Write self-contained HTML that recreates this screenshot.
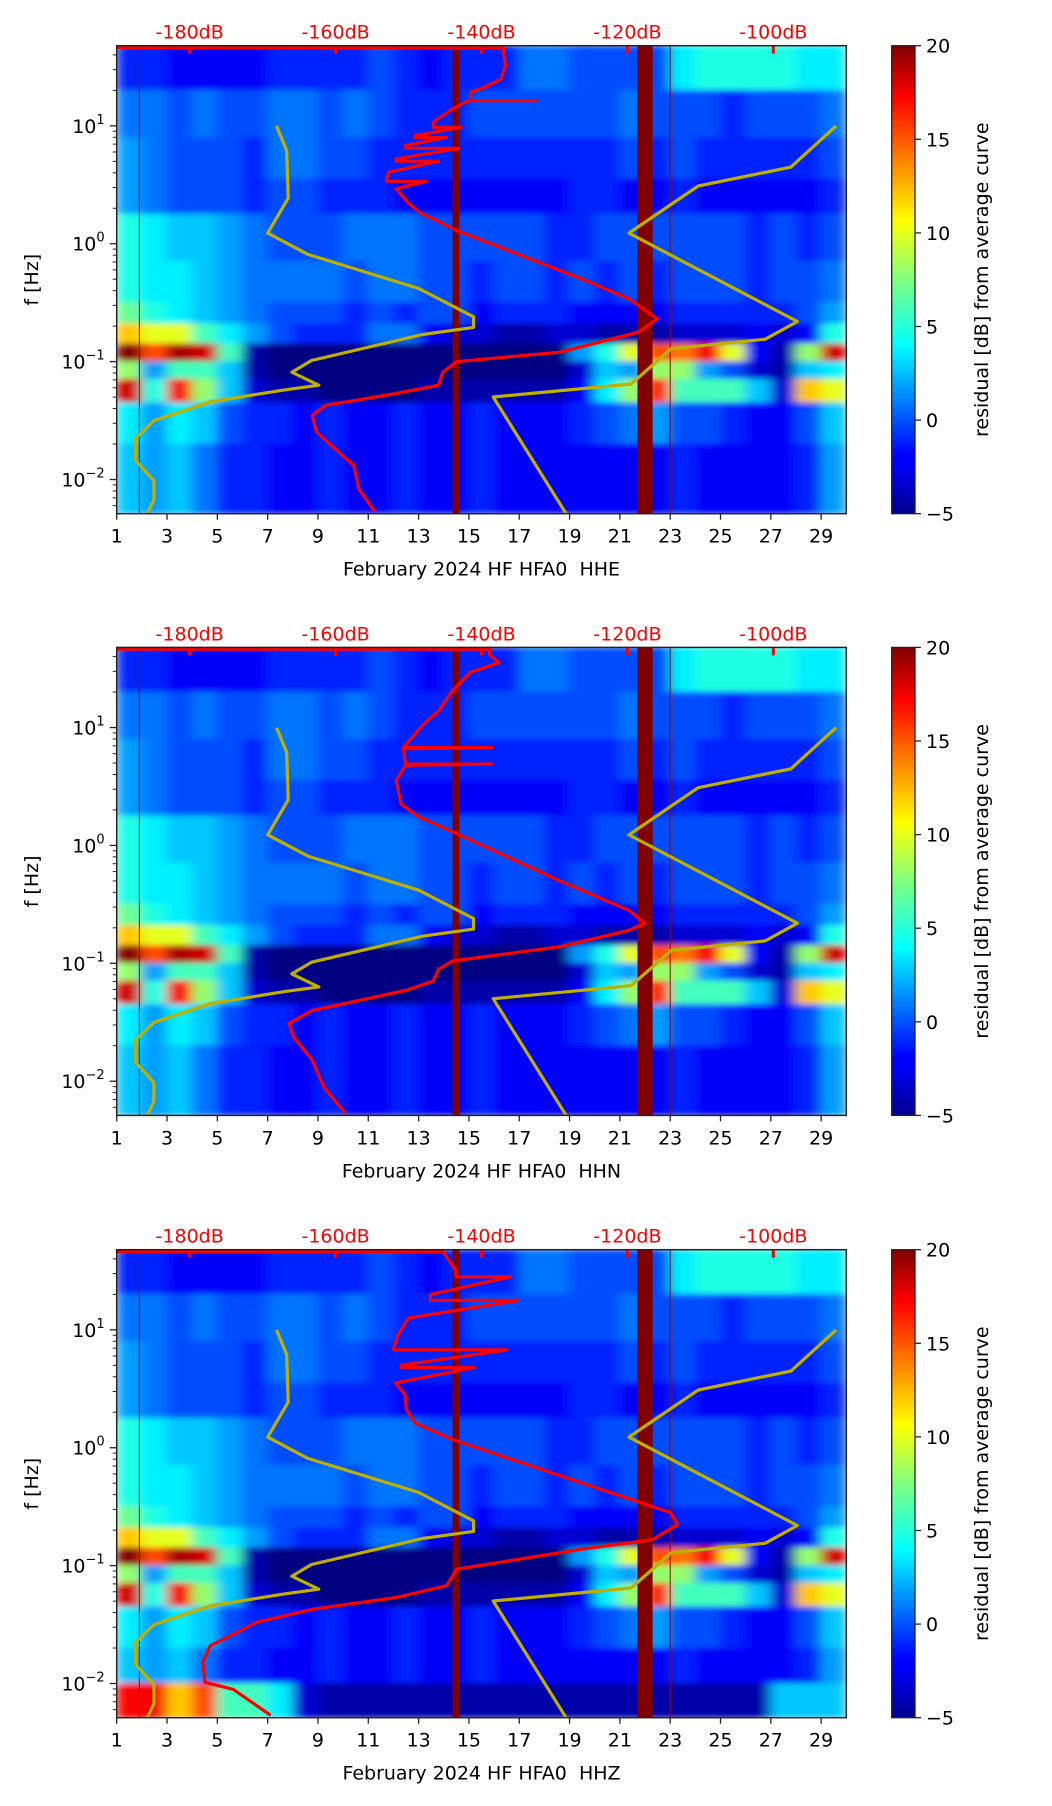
<!DOCTYPE html>
<html><head><meta charset="utf-8">
<style>
html,body{margin:0;padding:0;background:#fff;}
svg{display:block;font-family:"DejaVu Sans","Liberation Sans",sans-serif;}
text{white-space:pre;}
</style></head>
<body>
<svg id="fig" width="1052" height="1806" viewBox="0 0 1052 1806" xmlns="http://www.w3.org/2000/svg">
<defs>
<filter id="blur" x="-5%" y="-5%" width="110%" height="110%"><feGaussianBlur stdDeviation="6 3" edgeMode="duplicate"/></filter>
<linearGradient id="jetgrad" x1="0" y1="1" x2="0" y2="0">
<stop offset="0" stop-color="#00008f"/><stop offset="0.11" stop-color="#0000ff"/><stop offset="0.125" stop-color="#0000ff"/>
<stop offset="0.36" stop-color="#00ffff"/><stop offset="0.5" stop-color="#80ff80"/><stop offset="0.625" stop-color="#ffff00"/>
<stop offset="0.89" stop-color="#ff0000"/><stop offset="1" stop-color="#800000"/>
</linearGradient>
</defs>
</svg>
<script>
// ---- data ----
const dayTicks = [1,3,5,7,9,11,13,15,17,19,21,23,25,27,29];
const dbTicks = [-180,-160,-140,-120,-100];
const cbTicks = [-5,0,5,10,15,20];
const yDecades = [-2,-1,0,1];
const panelTitles = ["February 2024 HF HFA0  HHE","February 2024 HF HFA0  HHN","February 2024 HF HFA0  HHZ"];
// frequency band edges (log10 Hz) for residual heatmap rows
const bandEdges = [1.68,1.30,0.90,0.55,0.25,-0.15,-0.50,-0.68,-0.85,-1.00,-1.15,-1.35,-1.70,-2.00,-2.29];
// residual dB per band (rows) per day (columns day 1..29)
const resB0 = [-1,-1,-2,-2,-2,-2,-1,-1,-1,-1,0,-1,-2,-1,-1,-1,1,1,0,0,0,0,4,5,5,5,5,4,4];
const resB1 = [1,1,0,1,0,0,1,1,0,1,0,-1,-1,-1,0,0,0,0,0,0,1,0,0,0,-1,0,0,0,1];
const resB2 = [2,1,0,0,0,-1,1,1,0,0,-1,-1,-1,-1,-1,-1,-1,-1,-1,-1,0,-1,0,-1,-1,-1,-1,-1,0];
const resB3 = [2,1,0,0,0,-1,0,0,-1,-1,-1,-2,-2,-2,-2,-2,-2,-2,-1,-1,-2,-2,-1,-2,-2,-2,-2,-2,-1];
const resB4 = [5,4,3,3,2,1,0,0,0,1,1,1,0,0,0,0,0,-1,-1,0,0,0,0,0,0,-1,0,-1,0];
const resB5 = [5,4,4,3,2,1,1,1,1,0,1,1,0,0,-1,0,0,-1,0,-1,0,-1,0,0,0,-1,0,0,1];
const resB6 = [7,5,4,3,2,1,0,0,0,-1,0,-1,0,0,-2,-1,-1,-1,-2,-2,-2,-2,-1,-1,-1,-1,-1,0,2];
const resB7 = [12,10,10,6,4,2,0,-1,-1,-1,1,1,-2,-3,-3,-4,-4,-3,-3,-4,-4,-4,-3,-3,-3,-2,-3,-2,5];
const resB8 = [20,15,19,18,6,-4,-5,-5,-5,-5,-5,-5,-5,-5,-5,-5,-5,-5,2,5,10,15,14,17,10,-2,-4,8,18];
const resB9 = [8,2,6,6,3,-4,-5,-5,-5,-5,-5,-5,-5,-5,-5,-5,-5,-5,-3,3,2,8,8,2,0,-3,-4,3,4];
const resB10 = [18,5,17,8,3,-3,-4,-4,-5,-5,-5,-5,-4,-4,-4,-4,-4,-4,-2,4,8,16,6,6,6,3,-3,12,10];
const resB11 = [4,2,4,3,0,-1,-1,-2,-1,-2,-2,-1,-2,-2,-1,-2,-2,-2,-1,0,1,2,0,0,-1,-2,-2,0,3];
const resB12 = [3,2,3,1,-1,-1,-2,-2,-1,-2,-2,-1,-2,-2,-1,-2,-2,-2,-2,-2,-2,-2,-1,-2,-2,-2,-2,-1,2];
const resB13 = [3,2,3,1,-1,-1,-2,-2,-1,-2,-2,-1,-2,-2,-1,-2,-2,-2,-2,-2,-2,-2,-1,-2,-2,-2,-2,-1,2];
const resB13z = [17,17,12,15,6,6,4,-3,-4,-4,-4,-4,-4,-4,-4,-4,-4,-4,-4,-4,-4,-4,-4,-4,-4,-4,3,3,3];
// data gaps (days)
const gapStart = [14.35,21.7];
const gapEnd = [14.62,22.3];
const thinLines = [1.9,23.0];
// noise model curves (log10 f, dB)
const nlnmLogF = [1.0,0.79,0.387,0.09,-0.09,-0.38,-0.62,-0.71,-0.77,-0.99,-1.09,-1.20,-1.24,-1.34,-1.50,-1.65,-1.84,-2.01,-2.17,-2.30];
const nlnmDb = [-168.1,-166.7,-166.5,-169.3,-163.8,-148.6,-141.1,-141.1,-148.1,-163.3,-166.0,-162.3,-167.0,-177.1,-184.9,-187.4,-187.4,-184.9,-184.9,-185.9];
const nhnmLogF = [1.0,0.65,0.49,0.09,-0.66,-0.81,-0.89,-1.19,-1.30,-2.30];
const nhnmDb = [-91.4,-97.6,-110.3,-119.8,-96.7,-101.1,-114.0,-119.5,-138.4,-128.3];
// average PSD curves per channel (log10 f, dB)
const avgLogF1 = [1.665,1.665,1.629,1.51,1.397,1.327,1.285,1.214,1.214,1.214,1.143,1.03,0.988,0.988,0.917,0.90,0.90,0.833,0.81,0.81,0.72,0.70,0.70,0.607,0.55,0.53,0.53,0.466,0.352,0.267,0.112,-0.30,-0.467,-0.637,-0.75,-0.92,-1.0,-1.09,-1.20,-1.27,-1.37,-1.456,-1.597,-1.71,-1.88,-2.08,-2.275];
const avgDb1 = [-195,-137.0,-137.0,-136.7,-137.3,-139.6,-141.5,-141.5,-132.5,-141.8,-144.0,-146.6,-146.6,-142.8,-149.1,-149.1,-144.8,-150.4,-150.4,-143.1,-151.7,-151.7,-145.9,-152.7,-153.0,-153.0,-147.6,-151.7,-150.1,-148.5,-143.4,-126.2,-119.8,-115.9,-118.5,-129.3,-143.4,-145.3,-145.9,-151.7,-161.3,-163.2,-162.6,-160.6,-157.5,-156.8,-154.6];
const avgLogF2 = [1.665,1.665,1.62,1.55,1.47,1.31,1.14,1.03,0.83,0.83,0.82,0.69,0.69,0.68,0.55,0.35,0.24,0.10,-0.30,-0.55,-0.66,-0.72,-0.86,-0.98,-1.05,-1.15,-1.23,-1.40,-1.51,-1.63,-1.82,-2.05,-2.27];
const avgDb2 = [-195,-138.9,-138.9,-137.6,-141.5,-144.0,-145.9,-147.9,-150.7,-138.6,-150.7,-150.4,-138.6,-150.4,-151.7,-151.0,-148.5,-143.4,-129.3,-119.8,-117.6,-119.8,-129.3,-144.0,-145.9,-146.6,-150.4,-163.2,-166.4,-165.7,-163.2,-161.6,-158.7];
const avgLogF3 = [1.665,1.665,1.5,1.45,1.45,1.3,1.25,1.25,1.1,0.95,0.85,0.83,0.83,0.70,0.68,0.68,0.55,0.45,0.324,0.21,0.07,-0.30,-0.55,-0.65,-0.78,-0.86,-1.03,-1.17,-1.27,-1.37,-1.48,-1.68,-1.82,-1.99,-2.05,-2.27];
const avgDb3 = [-195,-145.3,-143.5,-143.5,-136,-147,-147,-135,-150,-151.5,-152,-152,-136.5,-151,-151,-141,-151.8,-150.5,-150.3,-149.1,-144.0,-126.2,-114.1,-113.1,-116.6,-126.2,-143.4,-144.8,-151.7,-163.1,-170.8,-177.2,-178.2,-177.9,-174.0,-168.9];

// ---- layout ----
const L=116.7, R=846.3, PH=468, tops=[45.7,647.4,1249.7];
const CBX=891.7, CBW=23.3;
const fMinLog=-2.29, fMaxLog=1.68;
const NS="http://www.w3.org/2000/svg";
const svg=document.getElementById('fig');
function xDay(d){return L+(d-1)/29*(R-L);}
function xDb(v){return L+(v+190)/100*(R-L);}
function yLog(lf,top){return top+(fMaxLog-lf)/(fMaxLog-fMinLog)*PH;}
function mk(tag,attrs,parent){const e=document.createElementNS(NS,tag);for(const k in attrs)e.setAttribute(k,attrs[k]);(parent||svg).appendChild(e);return e;}
function jet(v){let t=(v+5)/25;t=Math.max(0,Math.min(1,t));
 const r=Math.max(0,Math.min(1,1.5-Math.abs(4*t-3)));const g=Math.max(0,Math.min(1,1.5-Math.abs(4*t-2)));const b=Math.max(0,Math.min(1,1.5-Math.abs(4*t-1)));
 return `rgb(${Math.round(r*255)},${Math.round(g*255)},${Math.round(b*255)})`;}

const avgLogF=[avgLogF1,avgLogF2,avgLogF3], avgDb=[avgDb1,avgDb2,avgDb3];
tops.forEach((top,p)=>{
  const rows=[resB0,resB1,resB2,resB3,resB4,resB5,resB6,resB7,resB8,resB9,resB10,resB11,resB12,p===2?resB13z:resB13];
  const panel=mk('g',{});
  
  
  const cid='clip'+p;
  const cp=mk('clipPath',{id:cid},panel);mk('rect',{x:L,y:top,width:R-L,height:PH},cp);
  const clipG=mk('g',{'clip-path':`url(#${cid})`},panel);
  const hm=mk('g',{filter:'url(#blur)'},clipG);
  
  
  rows.forEach((row,bi)=>{
    const y0=yLog(bandEdges[bi],top), y1=yLog(bandEdges[bi+1],top);
    row.forEach((v,di)=>{
      const c=mk('rect',{x:xDay(di+1)-0.5,y:y0-0.5,width:xDay(di+2)-xDay(di+1)+1,height:y1-y0+1,fill:jet(v)},hm);
      
      
    });
  });
  gapStart.forEach((s,i)=>{
    const g=mk('rect',{x:xDay(s),y:top,width:xDay(gapEnd[i])-xDay(s),height:PH,fill:'#800000'},clipG);
    
    
  });
  thinLines.forEach(d=>{
    const l=mk('line',{x1:xDay(d),x2:xDay(d),y1:top,y2:top+PH,stroke:'#a00000','stroke-width':1},clipG);
    
    
  });
  function poly(lfs,dbs,color,w,name){
    const pts=lfs.map((lf,i)=>xDb(dbs[i]).toFixed(1)+','+yLog(lf,top).toFixed(1)).join(' ');
    const e=mk('polyline',{points:pts,fill:'none',stroke:color,'stroke-width':w,'stroke-linejoin':'round'},clipG);
    
    
  }
  poly(nlnmLogF,nlnmDb,'#bfb000',3.2,'nlnm-curve');
  poly(nhnmLogF,nhnmDb,'#bfb000',3.2,'nhnm-curve');
  poly(avgLogF[p],avgDb[p],'#ff0000',3.2,'average-psd-curve');
  dbTicks.forEach(v=>{
    const t=mk('line',{x1:xDb(v),x2:xDb(v),y1:top,y2:top+8,stroke:'#ff0000','stroke-width':3},panel);
    
    
    const tx=mk('text',{x:xDb(v),y:top-7,'text-anchor':'middle','font-size':19,fill:'#ff0000'},panel);
    tx.textContent=v+'dB';
    
    
  });
  const fr=mk('rect',{x:L,y:top,width:R-L,height:PH,fill:'none',stroke:'#222','stroke-width':1.5},panel);
  
  
  dayTicks.forEach(d=>{
    const x=xDay(d);
    const t=mk('line',{x1:x,x2:x,y1:top+PH,y2:top+PH+6,stroke:'#222','stroke-width':1.3},panel);
    
    
    const tx=mk('text',{x:x,y:top+PH+29,'text-anchor':'middle','font-size':19,fill:'#000'},panel);
    tx.textContent=d;
    
    
  });
  const xl=mk('text',{x:(L+R)/2,y:top+PH+62,'text-anchor':'middle','font-size':19,fill:'#000','xml:space':'preserve'},panel);
  xl.textContent=panelTitles[p];
  
  
  for(let dec=-3;dec<=1;dec++){for(let m=1;m<10;m++){
    const lf=dec+Math.log10(m); if(lf<fMinLog||lf>fMaxLog)continue;
    const y=yLog(lf,top);
    const t=mk('line',{x1:L,x2:L-(m===1?7:4),y1:y,y2:y,stroke:'#222','stroke-width':m===1?1.3:1},panel);
    
    
  }}
  yDecades.forEach(dec=>{
    const y=yLog(dec,top);
    const tx=mk('text',{x:L-12,y:y+7,'text-anchor':'end','font-size':19,fill:'#000'},panel);
    tx.textContent='10';
    const sp=mk('tspan',{dy:-9,'font-size':13},tx);
    sp.textContent=dec<0?'\u2212'+(-dec):String(dec);
    
    
  });
  const yl=mk('text',{x:0,y:0,'text-anchor':'middle','font-size':19,fill:'#000',transform:`translate(38,${top+PH/2}) rotate(-90)`},panel);
  yl.textContent='f [Hz]';
  
  
  const cb=mk('rect',{x:CBX,y:top,width:CBW,height:PH,fill:'url(#jetgrad)',stroke:'#222','stroke-width':1.3},panel);
  
  
  cbTicks.forEach(v=>{
    const y=top+PH-(v+5)/25*PH;
    const t=mk('line',{x1:CBX+CBW,x2:CBX+CBW+6,y1:y,y2:y,stroke:'#222','stroke-width':1.3},panel);
    
    
    const tx=mk('text',{x:CBX+CBW+11,y:y+7,'font-size':19,fill:'#000'},panel);
    tx.textContent=v<0?'\u2212'+(-v):String(v);
    
    
  });
  const cl=mk('text',{x:0,y:0,'text-anchor':'middle','font-size':19,fill:'#000',transform:`translate(988,${top+PH/2}) rotate(-90)`},panel);
  cl.textContent='residual [dB] from average curve';
  
  
});
</script>
</body></html>
